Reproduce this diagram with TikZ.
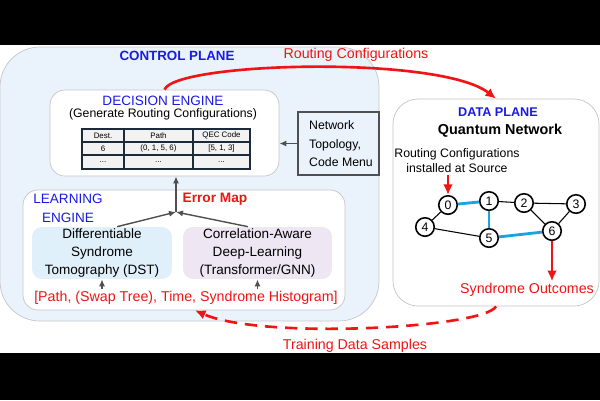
\documentclass[tikz,border=0pt]{standalone}
\usepackage{fontspec}
\setmainfont{Liberation Sans}
\usepackage{xcolor}
\usetikzlibrary{fit,arrows.meta}

\definecolor{cpfill}{HTML}{EAF3FC}
\definecolor{dstfill}{HTML}{E0F0FA}
\definecolor{dlfill}{HTML}{EFE6F4}
\definecolor{titleblue}{HTML}{1A1AE6}
\definecolor{hotred}{HTML}{F01414}
\definecolor{linkblue}{HTML}{1DA1DF}
\definecolor{tabline}{HTML}{1C2B3A}
\definecolor{arrgray}{HTML}{505050}

\tikzset{
  panel/.style={draw=gray!45,inner sep=0},
  subbox/.style={rounded corners=0.2cm,align=center,inner sep=0,font=\fontsize{7.7}{10.2}\selectfont},
  cell/.style={draw=tabline,line width=1.1pt,fill=gray!10,inner sep=0,minimum height=0.26cm,font=\fontsize{4.5}{5}\selectfont},
  bluetitle/.style={text=titleblue,font=\bfseries\fontsize{7.6}{9}\selectfont},
  redtext/.style={text=hotred,inner sep=1pt,font=\fontsize{8.1}{9}\selectfont},
  garrow/.style={-{Latex[length=4pt,width=3.5pt]},arrgray,line width=0.8pt},
  rarrow/.style={-{Latex[length=6pt,width=5.5pt]},hotred,line width=1.5pt},
  qnode/.style={circle,draw,line width=0.9pt,fill=white,minimum size=0.37cm,inner sep=0,font=\fontsize{7}{8}\selectfont},
  link/.style={line width=0.6pt},
  qlink/.style={linkblue,line width=1.6pt}
}

\begin{document}
\begin{tikzpicture}[x=0.02cm,y=-0.02cm]
% frame
\useasboundingbox (0,0) rectangle (600,400);
\fill[white] (0,45) rectangle (600,353);
\fill[black] (0,0) rectangle (600,45);
\fill[black] (0,353) rectangle (600,400);

% control plane
\node[panel,fill=cpfill,rounded corners=0.8cm,fit={(0,47) (379,321)}] (cp) {};
\node[bluetitle] (cplbl) at (177,56) {CONTROL PLANE};

% decision engine
\node[panel,fill=white,rounded corners=0.3cm,fit={(50,90) (279,176)}] (dec) {};
\node[text=titleblue,font=\fontsize{7.7}{9}\selectfont] (declbl) at (163,101) {DECISION ENGINE};
\node[font=\fontsize{7}{8}\selectfont] (decsub) at (163,114) {(Generate Routing Configurations)};
\foreach \x/\w/\ha/\hb [count=\i] in {103/42/Dest./6, 158.5/69/Path/{(0, 1, 5, 6)}, 221.5/57/QEC Code/{[5, 1, 3]}}{
  \node[cell,minimum width=\w*0.02cm] (ta\i) at (\x,135.5) {\ha};
  \node[cell,minimum width=\w*0.02cm] (tb\i) at (\x,148.5) {\hb};
  \node[cell,minimum width=\w*0.02cm,minimum height=0.28cm] (tc\i) at (\x,162) {...};
}

% network topology
\node[draw=arrgray,line width=0.9pt,fill=cpfill,inner sep=0,fit={(298,112) (379,175)}] (net) {};
\node[align=left,anchor=west,font=\fontsize{7}{10.5}\selectfont] (nettxt) at (303,144) {Network\\Topology,\\Code Menu};
\draw[garrow] (net.west) -- (net.west -| dec.east);

% learning engine
\node[panel,fill=white,rounded corners=0.3cm,fit={(23,190) (345,310)}] (learn) {};
\node[align=center,text=titleblue,font=\fontsize{7.7}{10.8}\selectfont] (learnlbl) at (68,208) {LEARNING\\ENGINE};
\node[text=hotred,font=\bfseries\fontsize{7.8}{9}\selectfont] (errmap) at (215,199) {Error Map};
\node[subbox,fill=dstfill,minimum width=2.8cm,minimum height=1.04cm] (dst) at (102,253) {Differentiable\\Syndrome\\Tomography (DST)};
\node[subbox,fill=dlfill,minimum width=2.98cm,minimum height=1.04cm] (corr) at (257.5,253) {Correlation-Aware\\Deep-Learning\\(Transformer/GNN)};
\node[redtext] (hist) at (186,298) {[Path, (Swap Tree), Time, Syndrome Histogram]};
\coordinate (jn) at (176,212);
\draw[garrow] (dst.60) -- (jn);
\draw[garrow] (corr.110) -- (jn);
\draw[garrow] (jn) -- (jn |- dec.south);
\draw[garrow] (hist.north -| dst.south) -- (dst.south);
\draw[garrow] (hist.north -| corr.south) -- (corr.south);

% data plane
\node[panel,fill=white,rounded corners=0.5cm,fit={(393,99) (599,306)}] (dp) {};
\node[bluetitle,font=\bfseries\fontsize{7.2}{9}\selectfont] (dplbl) at (498,112) {DATA PLANE};
\node[font=\bfseries\fontsize{8.2}{9}\selectfont] (qnet) at (500,131) {Quantum Network};
\node[align=center,inner sep=1pt,font=\fontsize{7}{8.5}\selectfont] (inst) at (457,161) {Routing Configurations\\installed at Source};
\foreach \n/\x/\y in {0/448/205,1/489/201,2/524/203,3/576/204,4/425/227,5/489/238,6/552/231}
  \node[qnode] (q\n) at (\x,\y) {\n};
\foreach \a/\b in {0/4,4/5,1/2,2/3,2/6,3/6}
  \draw[link] (q\a) -- (q\b);
\foreach \a/\b in {0/1,1/5,5/6}
  \draw[qlink] (q\a) -- (q\b);
\draw[rarrow,line width=1.3pt] (inst.south -| q0) -- (q0);
\node[redtext] (synd) at (527,290) {Syndrome Outcomes};
\draw[rarrow,line width=1.3pt] (q6) -- (q6 |- synd.north);

% feedback loops
\draw[rarrow] (dec.north) .. controls (175,62) and (440,55) .. (dp.north);
\node[redtext] (rclbl) at (356,55) {Routing Configurations};
\draw[rarrow,dash pattern=on 7pt off 4.5pt] (dp.south) .. controls (485,328) and (262,340) .. ([xshift=0.22cm]learn.south);
\node[redtext] (tdlbl) at (355,346) {Training Data Samples};
\end{tikzpicture}
\end{document}
